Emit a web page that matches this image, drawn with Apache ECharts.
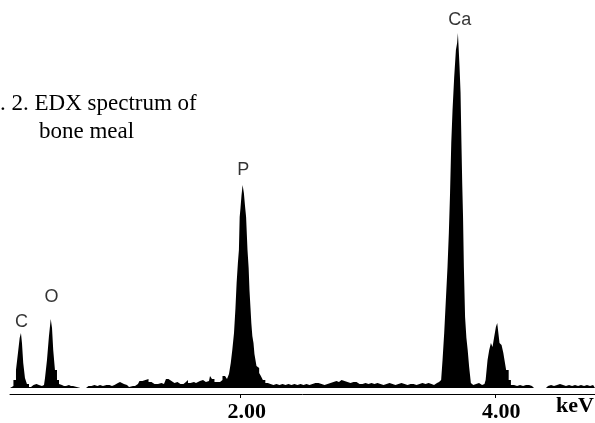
<!DOCTYPE html>
<html>
<head>
<meta charset="utf-8">
<script src="https://cdn.jsdelivr.net/npm/echarts@6.0.0/dist/echarts.min.js"></script>
<style>
  html, body { margin: 0; padding: 0; background: #fff; }
  #chart { width: 595px; height: 423px; }
</style>
</head>
<body>
<div id="chart"></div>
<script>
// energy of each channel (keV) and the counts (arbitrary units)
const energy = [
  0.188, 0.203, 0.227, 0.243, 0.258, 0.270, 0.278, 0.286, 0.298, 0.313, 0.329, 0.345,
  0.361, 0.384, 0.408, 0.423, 0.439,
  0.455, 0.471, 0.486, 0.502, 0.514, 0.522, 0.533, 0.549, 0.565, 0.581, 0.596,
  0.612, 0.628, 0.643, 0.659, 0.675, 0.691, 0.698, 0.785, 0.793, 0.816, 0.840, 0.863,
  0.887, 0.903, 0.910, 0.926, 0.934, 0.958, 0.981, 0.997, 1.020, 1.052, 1.083, 1.107,
  1.123, 1.138, 1.170, 1.193, 1.217, 1.240, 1.264, 1.288, 1.311, 1.335, 1.366, 1.390,
  1.405, 1.421, 1.445, 1.468, 1.492, 1.515, 1.539, 1.562, 1.578, 1.594, 1.617, 1.649,
  1.680, 1.704, 1.727, 1.751, 1.767, 1.782, 1.806, 1.830, 1.845, 1.869, 1.885, 1.900,
  1.916, 1.928, 1.940, 1.955, 1.963, 1.973, 1.983, 1.989, 1.995, 2.002, 2.010, 2.020,
  2.030, 2.038, 2.047, 2.060, 2.065, 2.073, 2.081, 2.086, 2.097, 2.104, 2.112, 2.120,
  2.128, 2.138, 2.152, 2.165, 2.183, 2.204,
  2.222, 2.246, 2.269, 2.293, 2.317, 2.340, 2.364, 2.387, 2.411, 2.434, 2.458, 2.482,
  2.505, 2.529, 2.552, 2.576, 2.599, 2.623, 2.647, 2.670, 2.694, 2.717, 2.741, 2.764,
  2.780, 2.804, 2.827, 2.851, 2.874, 2.898, 2.922, 2.945, 2.969, 2.992, 3.016, 3.039,
  3.063, 3.086, 3.110, 3.134, 3.157, 3.181, 3.204, 3.228, 3.251, 3.275, 3.299, 3.322,
  3.346, 3.369, 3.393, 3.416, 3.440, 3.464, 3.487, 3.511,
  3.526, 3.542, 3.558, 3.570, 3.579, 3.592, 3.605, 3.618, 3.631, 3.639, 3.650, 3.658,
  3.670, 3.684, 3.697, 3.703, 3.709, 3.715, 3.723, 3.731, 3.736, 3.744, 3.749, 3.757,
  3.768, 3.778, 3.788, 3.801, 3.815, 3.827, 3.849, 3.872, 3.896, 3.915,
  3.933, 3.945, 3.959, 3.972, 3.984, 3.998, 4.011, 4.019, 4.029, 4.037, 4.049, 4.058,
  4.068, 4.076, 4.094, 4.116, 4.129,
  4.147, 4.171, 4.194, 4.218, 4.241, 4.265, 4.288, 4.304, 4.398, 4.414, 4.438, 4.461,
  4.485, 4.508, 4.532, 4.555, 4.579, 4.603, 4.626, 4.650, 4.673, 4.697, 4.720, 4.744,
  4.768, 4.783
];
const counts = [
  0, 2, 8, 18, 35, 50, 55, 45, 25, 10, 4, 1,
  3, 4, 3, 4, 2,
  3, 10, 28, 52, 69, 60, 38, 18, 8, 4, 3,
  2, 2, 3, 2, 2, 1, 0, 0, 2, 2, 3, 2,
  3, 1, 2, 0, 3, 3, 2, 3, 5, 6, 4, 3,
  1, 2, 2, 4, 7, 8, 9, 6, 4, 4, 5, 4,
  6, 9, 7, 5, 6, 4, 4, 6, 8, 5, 6, 5,
  7, 8, 6, 7, 12, 9, 6, 6, 8, 12, 10, 9,
  14, 25, 38, 55, 80, 105, 125, 138, 171, 180, 192, 203,
  195, 182, 171, 138, 120, 98, 80, 65, 52, 45, 34, 28,
  22, 20, 15, 12, 8, 5,
  4, 3, 4, 3, 4, 3, 4, 3, 4, 3, 4, 3,
  4, 3, 4, 5, 5, 4, 3, 4, 5, 6, 7, 6,
  8, 7, 6, 5, 6, 6, 4, 4, 5, 4, 5, 4,
  5, 4, 3, 4, 5, 4, 3, 4, 5, 4, 3, 4,
  4, 3, 4, 5, 4, 5, 4, 3,
  3, 5, 6, 7, 8, 28, 55, 88, 121, 155, 195, 245,
  278, 311, 338, 345, 355, 340, 321, 295, 248, 205, 171, 121,
  71, 50, 38, 21, 5, 3, 4, 5, 3, 4,
  8, 28, 38, 45, 41, 51, 61, 65, 55, 45, 43, 41,
  35, 28, 18, 8, 3,
  3, 2, 3, 2, 3, 3, 2, 0, 0, 2, 3, 2,
  3, 4, 3, 2, 3, 2, 3, 2, 3, 2, 3, 2,
  3, 2
];

// element labels above the peaks
const peakNames = ['C', 'O', 'P', 'Ca'];
const peakEnergy = [0.278, 0.514, 2.020, 3.720];
const labelHeight = [66, 91, 218, 368];

const tickValues = [2, 4];

const chart = echarts.init(document.getElementById('chart'));

const spectrum = energy.map((e, i) => [e, counts[i]]);
const labelPoints = peakEnergy.map((e, i) => [e, labelHeight[i]]);

chart.setOption({
  animation: false,
  backgroundColor: '#fff',
  grid: { left: 10, right: 0, top: 0, bottom: 29 },
  xAxis: {
    type: 'value',
    min: 0.188,
    max: 4.783,
    splitLine: { show: false },
    axisLine: { onZero: false, lineStyle: { color: '#000', width: 1 } },
    axisTick: { customValues: tickValues, length: 4, lineStyle: { color: '#000' } },
    axisLabel: {
      customValues: tickValues,
      formatter: v => v.toFixed(2),
      margin: 7,
      padding: [0, 0, 0, 12],
      color: '#000',
      fontFamily: 'Liberation Serif',
      fontWeight: 'bold',
      fontSize: 22
    }
  },
  yAxis: {
    type: 'value',
    min: -6,
    max: 388,
    show: false
  },
  series: [
    {
      type: 'line',
      data: spectrum,
      step: 'middle',
      showSymbol: false,
      lineStyle: { width: 0 },
      areaStyle: { color: '#000', opacity: 1 }
    },
    {
      type: 'scatter',
      data: labelPoints,
      symbolSize: 0,
      label: {
        show: true,
        position: 'inside',
        formatter: p => peakNames[p.dataIndex],
        color: '#000',
        fontFamily: 'Liberation Sans',
        fontSize: 18
      }
    }
  ],
  graphic: [
    {
      type: 'text', left: 0, top: 92,
      style: { text: '. 2. EDX spectrum of', font: '23px "Liberation Serif"', fill: '#000' }
    },
    {
      type: 'text', left: 39, top: 120,
      style: { text: 'bone meal', font: '23px "Liberation Serif"', fill: '#000' }
    },
    {
      type: 'text', left: 556, top: 395,
      style: { text: 'keV', font: 'bold 22px "Liberation Serif"', fill: '#000' }
    }
  ]
});
</script>
</body>
</html>
